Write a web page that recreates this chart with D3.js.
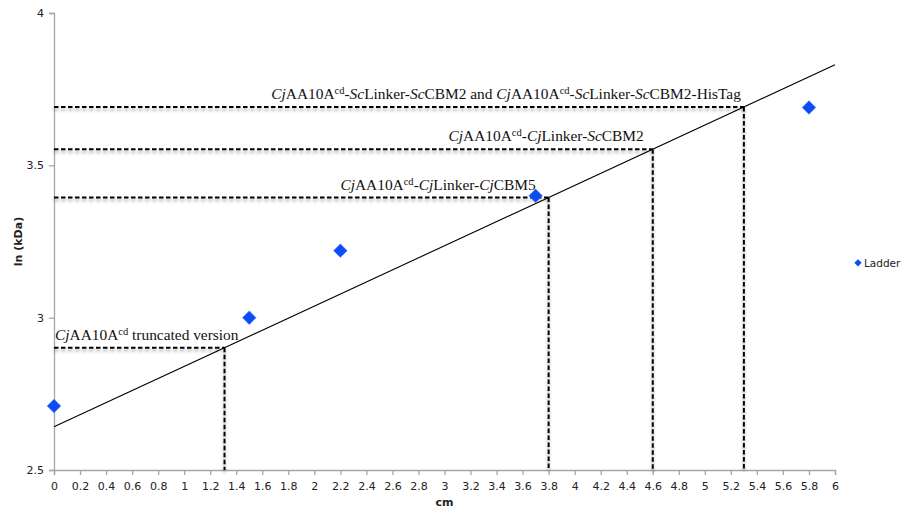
<!DOCTYPE html>
<html>
<head>
<meta charset="utf-8">
<script src="https://cdn.jsdelivr.net/npm/d3@7/dist/d3.min.js"></script>
<style>
  html, body { margin: 0; padding: 0; background: #fff; overflow: hidden; }
  svg { display: block; }
  .tick text { font-family: "DejaVu Sans", sans-serif; font-size: 11px; fill: #222; }
  .annot { font-family: "Liberation Serif", "Times New Roman", serif; font-size: 15.4px; fill: #111; }
</style>
</head>
<body>
<script>
// Ladder calibration: migration distance (cm) vs ln(kDa)
const ladderCm  = [0, 1.5, 2.2, 3.7, 5.8];
const ladderLnK = [2.71, 3.00, 3.22, 3.40, 3.69];

// Standard curve: ln(kDa) = intercept + slope * cm
const curveIntercept = 2.642;
const curveSlope = 0.198;
const curveRange = [0, 6];

// Protein bands (cm)
const bandCm = [1.31, 3.8, 4.6, 5.3];
// Band labels as rich-text runs: [text, style] where style is "i" italic, "s" superscript, "" plain
const bandLabels = [
  [["Cj", "i"], ["AA10A", ""], ["cd", "s"], [" truncated version", ""]],
  [["Cj", "i"], ["AA10A", ""], ["cd", "s"], ["-", ""], ["Cj", "i"], ["Linker-", ""], ["Cj", "i"], ["CBM5", ""]],
  [["Cj", "i"], ["AA10A", ""], ["cd", "s"], ["-", ""], ["Cj", "i"], ["Linker-", ""], ["Sc", "i"], ["CBM2", ""]],
  [["Cj", "i"], ["AA10A", ""], ["cd", "s"], ["-", ""], ["Sc", "i"], ["Linker-", ""], ["Sc", "i"], ["CBM2 and ", ""],
   ["Cj", "i"], ["AA10A", ""], ["cd", "s"], ["-", ""], ["Sc", "i"], ["Linker-", ""], ["Sc", "i"], ["CBM2-HisTag", ""]]
];

const xTicks = d3.range(0, 6.0001, 0.2).map(v => +v.toFixed(1));
const yTicks = [2.5, 3, 3.5, 4];
const xTitle = "cm";
const yTitle = "ln (kDa)";
const seriesName = "Ladder";

const W = 904, H = 515;
const margin = { left: 54, right: 69, top: 13, bottom: 45 };

const svg = d3.select("body").append("svg").attr("width", W).attr("height", H);

const x = d3.scaleLinear().domain([0, 6]).range([margin.left, W - margin.right]);
const y = d3.scaleLinear().domain([2.5, 4]).range([H - margin.bottom, margin.top]);

// soft shadow under the guide lines
const defs = svg.append("defs");
const f = defs.append("filter").attr("id", "shadow")
  .attr("x", "-10%").attr("y", "-50%").attr("width", "120%").attr("height", "200%");
f.append("feDropShadow").attr("dx", 0).attr("dy", 2.5).attr("stdDeviation", 1.4)
  .attr("flood-color", "#000").attr("flood-opacity", 0.35);

// axes
const xAxis = svg.append("g").attr("transform", `translate(0,${y(2.5)})`)
  .call(d3.axisBottom(x).tickValues(xTicks).tickSize(5).tickPadding(7)
    .tickFormat(d => d3.format("~g")(d)));
const yAxis = svg.append("g").attr("transform", `translate(${x(0)},0)`)
  .call(d3.axisLeft(y).tickValues(yTicks).tickSize(5).tickPadding(5)
    .tickFormat(d => d3.format("~g")(d)));
[xAxis, yAxis].forEach(g => {
  g.select(".domain").attr("stroke", "#a6a6a6").attr("stroke-width", 1.3);
  g.selectAll(".tick line").attr("stroke", "#a6a6a6").attr("stroke-width", 1.3);
});

// axis titles
svg.append("text").attr("x", x(3)).attr("y", 506).attr("text-anchor", "middle")
  .attr("font-family", "DejaVu Sans, sans-serif").attr("font-size", 11).attr("font-weight", "bold")
  .attr("fill", "#222").text(xTitle);
svg.append("text").attr("transform", `translate(22,${y(3.25)}) rotate(-90)`).attr("text-anchor", "middle")
  .attr("font-family", "DejaVu Sans, sans-serif").attr("font-size", 11).attr("font-weight", "bold")
  .attr("fill", "#222").text(yTitle);

// dashed guide lines from each band to the axes
const guides = svg.append("g").attr("filter", "url(#shadow)");
bandCm.forEach(c => {
  const v = curveIntercept + curveSlope * c;
  guides.append("line")
    .attr("x1", x(0)).attr("x2", x(c)).attr("y1", y(v)).attr("y2", y(v))
    .attr("stroke", "#000").attr("stroke-width", 2).attr("stroke-dasharray", "4.5,2.5");
  guides.append("line")
    .attr("x1", x(c)).attr("x2", x(c)).attr("y1", y(v)).attr("y2", y(2.5))
    .attr("stroke", "#000").attr("stroke-width", 2).attr("stroke-dasharray", "4.5,2.5");
});

// band labels
const labelAnchor = [
  { anchor: "start", dx: 0 },
  { anchor: "end", dx: -13 },
  { anchor: "end", dx: -9 },
  { anchor: "end", dx: -3 }
];
bandCm.forEach((c, i) => {
  const v = curveIntercept + curveSlope * c;
  const a = labelAnchor[i];
  const t = svg.append("text").attr("class", "annot")
    .attr("x", a.anchor === "start" ? x(0) + 1 : x(c) + a.dx)
    .attr("y", y(v) - 8)
    .attr("text-anchor", a.anchor);
  bandLabels[i].forEach(([txt, st], k) => {
    const ts = t.append("tspan").text(txt);
    if (st === "i") ts.attr("font-style", "italic");
    if (st === "s") ts.attr("font-size", 10.5).attr("dy", -5);
    // return to the baseline after a superscript
    if (k > 0 && bandLabels[i][k - 1][1] === "s") ts.attr("dy", 5);
  });
});

// standard curve
svg.append("line")
  .attr("x1", x(curveRange[0])).attr("y1", y(curveIntercept + curveSlope * curveRange[0]))
  .attr("x2", x(curveRange[1])).attr("y2", y(curveIntercept + curveSlope * curveRange[1]))
  .attr("stroke", "#000").attr("stroke-width", 1.1);

// ladder points
const diamond = d3.symbol().type(d3.symbolDiamond2).size(115);
svg.append("g").selectAll("path").data(ladderCm).join("path")
  .attr("d", diamond)
  .attr("transform", (d, i) => `translate(${x(d)},${y(ladderLnK[i])})`)
  .attr("fill", "#0d4cf5").attr("stroke", "#2f6bff").attr("stroke-width", 0.6);

// legend
const lg = svg.append("g").attr("transform", `translate(858,${y(3.18)})`);
lg.append("path").attr("d", d3.symbol().type(d3.symbolDiamond2).size(34)).attr("fill", "#0d4cf5");
lg.append("text").attr("x", 6).attr("y", 4).attr("font-family", "DejaVu Sans, sans-serif")
  .attr("font-size", 10.5).attr("fill", "#222").text(seriesName);
</script>
</body>
</html>
